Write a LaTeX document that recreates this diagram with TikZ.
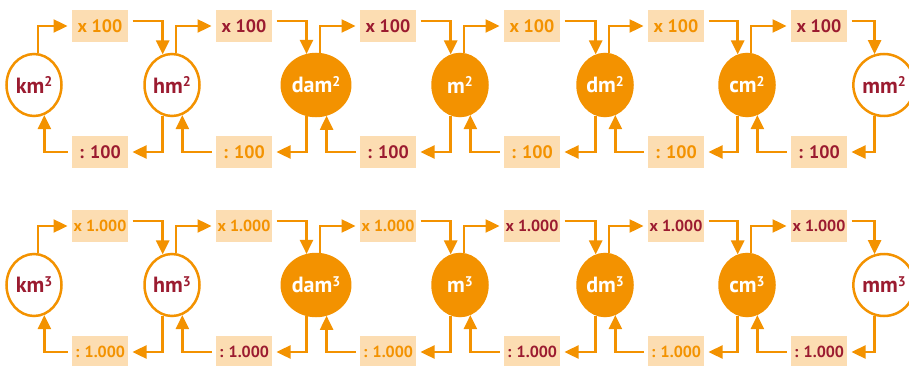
\documentclass[tikz,border=0pt]{standalone}
\usepackage{fontspec}
\setmainfont{PT Sans}
\usepackage{xcolor}
\usetikzlibrary{arrows.meta, shapes.geometric}
\definecolor{unitorange}{RGB}{243, 146, 0}
\definecolor{unitred}{RGB}{155, 27, 48}
\definecolor{peach}{RGB}{252, 221, 178}
\newcommand{\unitsup}[1]{\raisebox{0.55ex}{\fontsize{14}{14}\selectfont #1}}

\begin{document}
\begin{tikzpicture}[x=1pt, y=-1pt,
  unit/.style={ellipse, line width=2.5pt, minimum width=55pt, minimum height=62pt, inner sep=0pt, font=\bfseries\fontsize{22}{22}\selectfont},
  outl/.style={unit, draw=unitorange, fill=white, text=unitred},
  full/.style={unit, draw=unitorange, fill=unitorange, text=white},
  factor/.style={fill=peach, minimum width=56pt, minimum height=32pt, inner sep=0pt, outer xsep=4.5pt, font=\bfseries\fontsize{18}{18}\selectfont},
  factorcu/.style={factor, font=\bfseries\fontsize{16}{16}\selectfont},
  ot/.style={text=unitorange},
  rt/.style={text=unitred},
  arr/.style={-{Triangle[length=14pt, width=13pt]}, line width=2.4pt, draw=unitorange}]

  \useasboundingbox (0,0) rectangle (909,366);

  % square units
  \node[outl] (km2)  at (34,85)  {km\unitsup{2}};
  \node[outl] (hm2)  at (172,85) {hm\unitsup{2}};
  \node[full] (dam2) at (316,85) {dam\unitsup{2}};
  \node[full] (m2)   at (460,85) {m\unitsup{2}};
  \node[full] (dm2)  at (605,85) {dm\unitsup{2}};
  \node[full] (cm2)  at (747,85) {cm\unitsup{2}};
  \node[outl] (mm2)  at (884,85) {mm\unitsup{2}};

  \node[factor, ot] (mulsq1) at (100,26) {x 100};
  \node[factor, rt] (mulsq2) at (244,26) {x 100};
  \node[factor, rt] (mulsq3) at (388,26) {x 100};
  \node[factor, ot] (mulsq4) at (532,26) {x 100};
  \node[factor, ot] (mulsq5) at (676,26) {x 100};
  \node[factor, rt] (mulsq6) at (819,26) {x 100};

  \node[factor, rt] (divsq1) at (100,152) {: 100};
  \node[factor, ot] (divsq2) at (244,152) {: 100};
  \node[factor, rt] (divsq3) at (388,152) {: 100};
  \node[factor, ot] (divsq4) at (532,152) {: 100};
  \node[factor, ot] (divsq5) at (676,152) {: 100};
  \node[factor, rt] (divsq6) at (819,152) {: 100};

  % cubic units
  \node[outl] (km3)  at (34,285)  {km\unitsup{3}};
  \node[outl] (hm3)  at (172,285) {hm\unitsup{3}};
  \node[full] (dam3) at (316,285) {dam\unitsup{3}};
  \node[full] (m3)   at (460,285) {m\unitsup{3}};
  \node[full] (dm3)  at (605,285) {dm\unitsup{3}};
  \node[full] (cm3)  at (747,285) {cm\unitsup{3}};
  \node[outl] (mm3)  at (884,285) {mm\unitsup{3}};

  \node[factorcu, ot] (mulcu1) at (100,226) {x 1.000};
  \node[factorcu, ot] (mulcu2) at (244,226) {x 1.000};
  \node[factorcu, ot] (mulcu3) at (388,226) {x 1.000};
  \node[factorcu, rt] (mulcu4) at (532,226) {x 1.000};
  \node[factorcu, rt] (mulcu5) at (676,226) {x 1.000};
  \node[factorcu, rt] (mulcu6) at (819,226) {x 1.000};

  \node[factorcu, ot] (divcu1) at (100,352) {: 1.000};
  \node[factorcu, rt] (divcu2) at (244,352) {: 1.000};
  \node[factorcu, ot] (divcu3) at (388,352) {: 1.000};
  \node[factorcu, rt] (divcu4) at (532,352) {: 1.000};
  \node[factorcu, ot] (divcu5) at (676,352) {: 1.000};
  \node[factorcu, rt] (divcu6) at (819,352) {: 1.000};

  % conversion arrows
  \foreach \l/\r/\i in {km/hm/1, hm/dam/2, dam/m/3, m/dm/4, dm/cm/5, cm/mm/6}
    \foreach \p/\s in {2/sq, 3/cu} {
      \draw[arr] (\l\p.83) |- (mul\s\i.west);
      \draw[arr] ([yshift=5pt]mul\s\i.east) -| (\r\p.107);
      \draw[arr] (\r\p.253) |- (div\s\i.east);
      \draw[arr] (div\s\i.west) -| (\l\p.289);
    }
\end{tikzpicture}
\end{document}
